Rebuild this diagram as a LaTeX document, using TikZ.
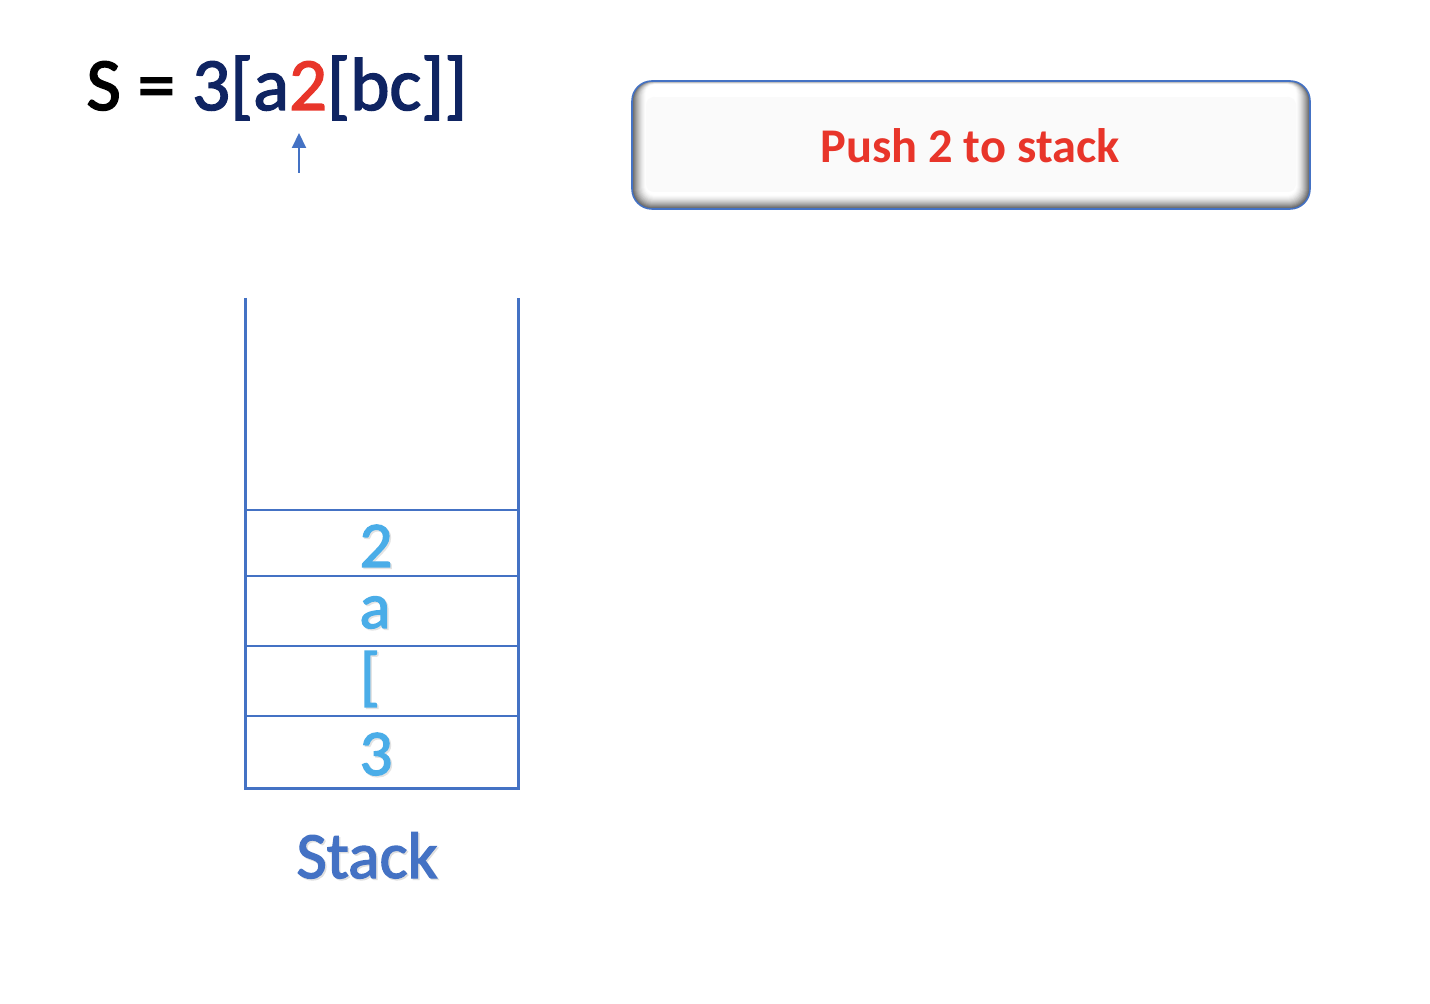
\documentclass[tikz,border=0pt]{standalone}
\usepackage{fontspec}
\setmainfont{Carlito}
\newfontfamily\heavy{Carlito}[FakeBold=2]
\usetikzlibrary{arrows.meta}
\definecolor{navy}{HTML}{0F2462}
\definecolor{myred}{HTML}{E8352A}
\definecolor{lblue}{HTML}{4AADE8}
\definecolor{mblue}{HTML}{4472C4}
\definecolor{inner}{HTML}{FAFAFA}
\tikzset{
  entry/.style={text=lblue,font=\heavy\fontsize{32.5pt}{36pt}\selectfont,inner sep=0pt,anchor=base},
  entryshadow/.style={entry,text=gray!22},
  wall/.style={draw=mblue,line width=1.5pt},
  sep/.style={draw=mblue,line width=0.7pt},
}
\begin{document}
\begin{tikzpicture}[x=0.5pt,y=-0.5pt]
\useasboundingbox (0,0) rectangle (1430,1004);
\fill[white] (0,0) rectangle (1430,1004);
% formula
\node[anchor=base west,inner sep=0pt,font=\heavy\fontsize{37.5pt}{42pt}\selectfont] (formula) at (86,110)
  {S = \textcolor{navy}{3[a}\textcolor{myred}{2}\textcolor{navy}{[bc]]}};
\coordinate (arrS) at (299,173);
\coordinate (arrE) at (299,133);
\draw[mblue,line width=1pt,-{Triangle[length=7.5pt,width=7pt]}] (arrS) -- (arrE);
% box with bevel
\foreach \k in {0,...,14}{
  \pgfmathsetmacro\cc{62*(1-\k/14)^1.6}
  \pgfmathsetmacro\rr{max(10-0.4*\k,2)}
  \fill[rounded corners=\rr pt,black!\cc!white] (632+\k,81+0.25*\k) rectangle (1310-\k,209-\k);
}
\fill[rounded corners=4pt,inner] (646,97) rectangle (1296,192);
\fill[rounded corners=5pt,white] (646,85) rectangle (1296,97);
\node[draw=mblue,line width=0.8pt,rounded corners=10pt,minimum width=339pt,minimum height=64pt] (box) at (971,145) {};
\node[anchor=base,inner sep=0pt,text=myred,font=\fontsize{24.2pt}{28pt}\selectfont\bfseries] (push) at (970,163) {Push 2 to stack};
% stack
\coordinate (tl) at (245,298);
\coordinate (bl) at (245,789);
\coordinate (br) at (518,789);
\coordinate (tr) at (518,298);
\draw[wall] (tl) -- (bl) -- (br) -- (tr);
\coordinate (s1l) at (245,510); \coordinate (s1r) at (517,510);
\coordinate (s2l) at (245,576); \coordinate (s2r) at (517,576);
\coordinate (s3l) at (245,646); \coordinate (s3r) at (517,646);
\coordinate (s4l) at (245,716); \coordinate (s4r) at (517,716);
\draw[sep] (s1l) -- (s1r);
\draw[sep] (s2l) -- (s2r);
\draw[sep] (s3l) -- (s3r);
\draw[sep] (s4l) -- (s4r);
\node[entryshadow] at (377.5,568.5) {2};
\node[entry] (e2) at (376,567) {2};
\node[entryshadow] at (376.5,629.5) {a};
\node[entry] (ea) at (375,628) {a};
\node[entryshadow] at (371.5,699.5) {[};
\node[entry] (eb) at (370,698) {[};
\node[entryshadow] at (377.5,776.5) {3};
\node[entry] (e3) at (376,775) {3};
\node[anchor=base,inner sep=0pt,text=gray!25,font=\heavy\fontsize{33pt}{36pt}\selectfont] at (368.5,879.5) {Stack};
\node[anchor=base,inner sep=0pt,text=mblue,font=\heavy\fontsize{33pt}{36pt}\selectfont] (stacklbl) at (367,878) {Stack};
\end{tikzpicture}
\end{document}
